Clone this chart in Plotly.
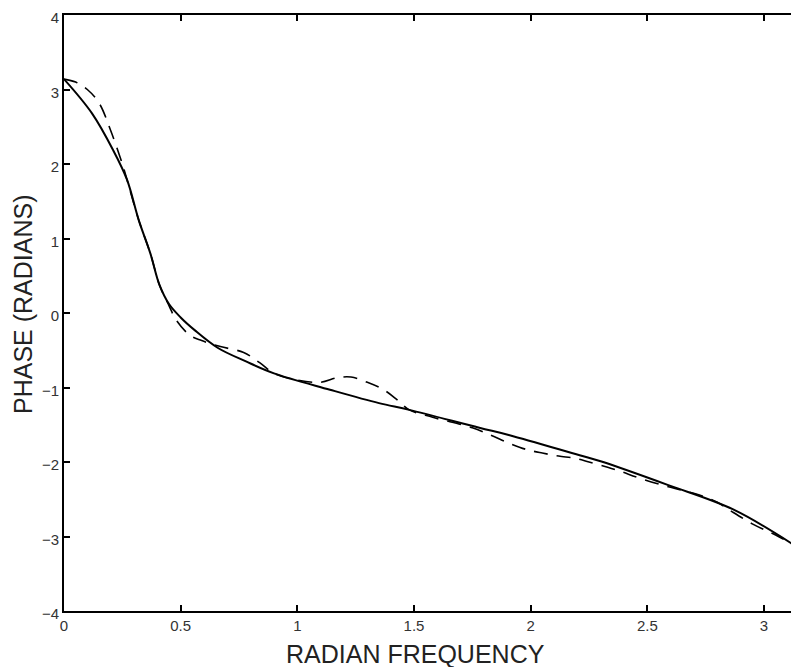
import plotly.graph_objects as go

# true phase (solid) and estimated phase (dashed)
w_true = [0, 0.12, 0.21, 0.27, 0.32, 0.37, 0.41, 0.45, 0.5, 0.56, 0.66, 0.78, 0.9,
          1.14, 1.35, 1.48, 1.78, 1.91, 2.21, 2.3, 2.59, 2.87, 3.1416]
ph_true = [3.14, 2.68, 2.19, 1.79, 1.25, 0.8, 0.37, 0.12, -0.06, -0.23, -0.47, -0.65, -0.81,
           -1.03, -1.21, -1.30, -1.54, -1.64, -1.91, -1.99, -2.31, -2.64, -3.14]

w_est = [0, 0.05, 0.1, 0.15, 0.2, 0.25, 0.27, 0.32, 0.37, 0.41, 0.45, 0.48, 0.54, 0.59,
         0.67, 0.77, 0.84, 0.9, 1.0, 1.1, 1.17, 1.23, 1.3, 1.37, 1.43, 1.48, 1.58,
         1.75, 1.83, 1.91, 1.98, 2.05, 2.12, 2.19, 2.25, 2.33, 2.39, 2.46, 2.6,
         2.72, 2.8, 2.85, 2.95, 3.05, 3.1416]
ph_est = [3.14, 3.1, 3.0, 2.82, 2.45, 2.0, 1.79, 1.25, 0.8, 0.37, 0.1, -0.09, -0.30, -0.37,
          -0.45, -0.53, -0.67, -0.81, -0.9, -0.93, -0.87, -0.86, -0.93, -1.03, -1.17,
          -1.30, -1.40, -1.54, -1.64, -1.75, -1.83, -1.88, -1.92, -1.95, -2.0, -2.07,
          -2.13, -2.21, -2.34, -2.44, -2.54, -2.64, -2.83, -2.98, -3.14]

x_ticks = [0, 0.5, 1, 1.5, 2, 2.5, 3]
x_labels = ["0", "0.5", "1", "1.5", "2", "2.5", "3"]
y_ticks = [-4, -3, -2, -1, 0, 1, 2, 3, 4]
y_labels = ["\u22124", "\u22123", "\u22122", "\u22121", "0", "1", "2", "3", "4"]

FONT = "Liberation Sans, Arial"

fig = go.Figure()
fig.add_trace(go.Scatter(x=w_est, y=ph_est, mode="lines", line_shape="spline",
                         line=dict(color="black", width=1.6, dash="14px,9px")))
fig.add_trace(go.Scatter(x=w_true, y=ph_true, mode="lines", line_shape="spline",
                         line=dict(color="black", width=2)))

axis_style = dict(showline=True, linecolor="black", linewidth=2, mirror="ticks",
                  ticks="inside", ticklen=6, tickcolor="black", tickwidth=1.5,
                  showgrid=False, zeroline=False, automargin=False,
                  ticklabeloverflow="allow",
                  tickfont=dict(family=FONT, size=15, color="#333"))

fig.update_xaxes(range=[0, 3.1416], tickvals=x_ticks, ticktext=x_labels, **axis_style)
# labels nudged down a little so the top "4" stays inside the page
fig.update_yaxes(range=[-4, 4], tickvals=y_ticks, ticktext=y_labels,
                 ticklabelshift=3, **axis_style)

# axis titles placed by hand, they sit a bit off centre in the scan
fig.add_annotation(text="RADIAN FREQUENCY", xref="paper", yref="paper",
                   x=0.48, y=-0.045, xanchor="center", yanchor="top", showarrow=False,
                   font=dict(family=FONT, size=25, color="#222"))
fig.add_annotation(text="PHASE (RADIANS)", xref="paper", yref="paper", textangle=-90,
                   x=-0.056, y=0.515, xanchor="center", yanchor="middle", showarrow=False,
                   font=dict(family=FONT, size=25, color="#222"))

# page body adds an 8px margin, so the figure is sized to sit inside the window
fig.update_layout(width=791, height=659, showlegend=False,
                  plot_bgcolor="white", paper_bgcolor="white",
                  margin=dict(l=56, r=2, t=7, b=56))

fig.write_html("out.html")
